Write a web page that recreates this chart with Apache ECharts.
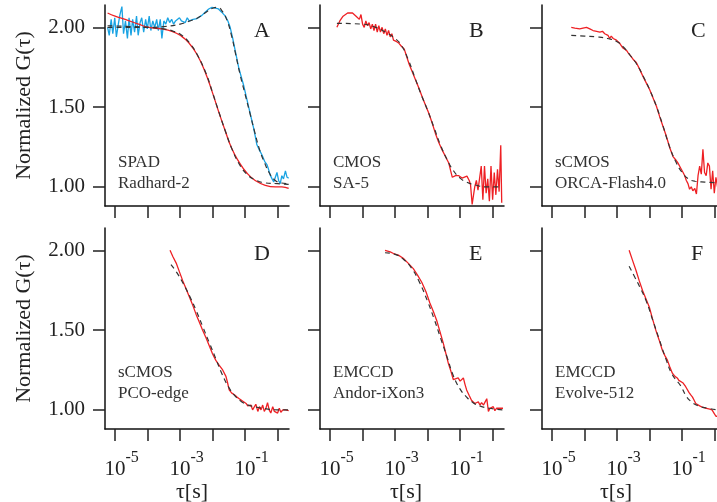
<!DOCTYPE html>
<html lang="en">
<head>
    <meta charset="utf-8">
    <title>Normalized G(tau) - six detectors</title>
    <script src="https://cdn.jsdelivr.net/npm/echarts@6/dist/echarts.min.js"></script>
    <style type="text/css">
        html, body { margin: 0; padding: 0; background: #fff; }
        #main { width: 717px; height: 502px; }
    </style>
</head>
<body>
    <div id="main"></div>
    <script type="text/javascript">
        // x values are log10(tau / s), y values are normalized G(tau)
        var xTicks = [-5, -4, -3, -2, -1, 0];
        var xLabels = [-5, -3, -1];
        var yTicks = [1.0, 1.5, 2.0];

        var panelLetters = ['A', 'B', 'C', 'D', 'E', 'F'];
        var panelLine1 = ['SPAD', 'CMOS', 'sCMOS', 'sCMOS', 'EMCCD', 'EMCCD'];
        var panelLine2 = ['Radhard-2', 'SA-5', 'ORCA-Flash4.0', 'PCO-edge', 'Andor-iXon3', 'Evolve-512'];

        var aRed = [[-5.23,2.09],[-5.0,2.07],[-4.69,2.05],[-4.28,2.02],[-3.97,2.0],[-3.56,1.99],[-3.25,1.975],[-3.0,1.95],[-2.74,1.905],[-2.48,1.83],[-2.23,1.72],[-2.02,1.6],[-1.82,1.475],[-1.61,1.35],[-1.41,1.24],[-1.2,1.16],[-0.94,1.085],[-0.69,1.04],[-0.38,1.01],[-0.07,1.0],[0.13,1.0],[0.34,0.99]];
        var aRedFit = [[-5.23,2.01],[-4.5,2.005],[-4.0,2.0],[-3.5,1.99],[-3.2,1.975],[-2.95,1.95],[-2.7,1.9],[-2.45,1.82],[-2.2,1.71],[-2.0,1.59],[-1.8,1.465],[-1.6,1.345],[-1.4,1.235],[-1.2,1.15],[-0.95,1.08],[-0.7,1.045],[-0.4,1.025],[0.0,1.02],[0.34,1.015]];
        var aBlue = [[-5.23,2.0],[-5.18,1.95],[-5.12,2.05],[-5.07,1.96],[-5.01,2.06],[-4.96,1.94],[-4.9,2.02],[-4.85,2.08],[-4.79,2.13],[-4.74,1.96],[-4.68,2.04],[-4.62,1.93],[-4.57,2.06],[-4.51,1.95],[-4.46,2.05],[-4.4,1.97],[-4.34,2.07],[-4.29,1.95],[-4.23,2.03],[-4.18,2.06],[-4.12,1.97],[-4.06,2.05],[-4.01,1.99],[-3.95,2.07],[-3.9,1.98],[-3.84,2.04],[-3.78,2.0],[-3.72,2.05],[-3.67,1.98],[-3.61,2.05],[-3.56,1.93],[-3.5,2.04],[-3.44,2.02],[-3.38,2.06],[-3.32,2.03],[-3.26,2.05],[-3.2,2.02],[-3.14,2.04],[-3.08,2.03],[-3.02,2.06],[-2.96,2.04],[-2.9,2.05],[-2.84,2.03],[-2.78,2.06],[-2.72,2.04],[-2.66,2.05],[-2.6,2.05],[-2.54,2.06],[-2.48,2.055],[-2.43,2.06],[-2.33,2.075],[-2.23,2.095],[-2.12,2.115],[-2.02,2.125],[-1.92,2.12],[-1.82,2.115],[-1.72,2.095],[-1.61,2.07],[-1.53,2.04],[-1.46,2.0],[-1.38,1.93],[-1.3,1.85],[-1.2,1.75],[-1.12,1.69],[-1.05,1.64],[-0.97,1.57],[-0.89,1.5],[-0.81,1.43],[-0.74,1.37],[-0.69,1.32],[-0.64,1.265],[-0.56,1.23],[-0.48,1.2],[-0.4,1.16],[-0.33,1.14],[-0.28,1.11],[-0.23,1.075],[-0.17,1.05],[-0.12,1.03],[-0.07,1.06],[-0.02,1.09],[0.03,1.04],[0.08,1.02],[0.13,1.07],[0.18,1.05],[0.24,1.1],[0.29,1.06],[0.34,1.055]];
        var aBlueFit = [[-5.23,2.0],[-4.0,2.0],[-3.5,2.005],[-3.0,2.02],[-2.7,2.04],[-2.45,2.06],[-2.2,2.095],[-2.0,2.12],[-1.85,2.125],[-1.7,2.1],[-1.55,2.04],[-1.42,1.95],[-1.3,1.84],[-1.15,1.7],[-1.0,1.58],[-0.85,1.46],[-0.7,1.34],[-0.55,1.23],[-0.4,1.15],[-0.25,1.085],[-0.1,1.045],[0.1,1.025],[0.34,1.02]];

        var bRed = [[-4.79,2.0],[-4.7,2.04],[-4.6,2.07],[-4.46,2.09],[-4.31,2.09],[-4.2,2.07],[-4.1,2.05],[-4.05,2.08],[-4.0,2.02],[-3.95,2.0],[-3.9,2.04],[-3.85,2.01],[-3.8,2.03],[-3.75,1.99],[-3.7,2.02],[-3.65,1.98],[-3.6,2.02],[-3.55,1.97],[-3.5,2.01],[-3.45,1.97],[-3.4,2.0],[-3.35,1.96],[-3.3,1.99],[-3.25,1.95],[-3.2,1.98],[-3.15,1.94],[-3.1,1.96],[-3.05,1.92],[-3.0,1.93],[-2.95,1.91],[-2.88,1.9],[-2.8,1.88],[-2.72,1.865],[-2.65,1.82],[-2.57,1.77],[-2.47,1.72],[-2.37,1.67],[-2.26,1.615],[-2.16,1.56],[-2.06,1.51],[-1.96,1.46],[-1.86,1.4],[-1.76,1.335],[-1.66,1.28],[-1.55,1.23],[-1.45,1.19],[-1.35,1.15],[-1.29,1.1],[-1.24,1.06],[-1.14,1.07],[-1.04,1.07],[-0.94,1.055],[-0.89,1.06],[-0.79,1.067],[-0.72,1.04],[-0.68,1.015],[-0.63,0.89],[-0.55,1.0],[-0.5,1.04],[-0.45,0.98],[-0.35,1.13],[-0.3,0.92],[-0.25,1.13],[-0.2,0.96],[-0.15,1.05],[-0.1,0.91],[-0.05,1.13],[0.0,0.92],[0.05,1.09],[0.1,0.95],[0.15,1.11],[0.2,0.97],[0.25,1.26],[0.28,0.9]];
        var bFit = [[-4.79,2.025],[-4.0,2.02],[-3.6,2.0],[-3.3,1.97],[-3.0,1.93],[-2.8,1.885],[-2.6,1.8],[-2.4,1.69],[-2.2,1.58],[-2.0,1.48],[-1.8,1.37],[-1.6,1.26],[-1.4,1.17],[-1.2,1.1],[-1.0,1.055],[-0.8,1.03],[-0.5,1.01],[-0.2,1.0],[0.29,1.0]];

        var cRed = [[-4.41,2.0],[-4.3,1.995],[-4.15,1.99],[-4.05,1.995],[-3.94,2.0],[-3.84,1.99],[-3.74,1.98],[-3.63,1.975],[-3.53,1.97],[-3.45,1.975],[-3.38,1.96],[-3.33,1.97],[-3.28,1.95],[-3.23,1.93],[-3.18,1.945],[-3.12,1.93],[-3.07,1.935],[-3.02,1.92],[-2.97,1.915],[-2.92,1.9],[-2.87,1.89],[-2.82,1.87],[-2.77,1.875],[-2.71,1.855],[-2.66,1.84],[-2.61,1.83],[-2.56,1.815],[-2.51,1.8],[-2.46,1.79],[-2.41,1.78],[-2.3,1.735],[-2.2,1.69],[-2.1,1.65],[-2.0,1.61],[-1.9,1.56],[-1.79,1.505],[-1.69,1.44],[-1.59,1.38],[-1.49,1.32],[-1.38,1.245],[-1.28,1.19],[-1.2,1.17],[-1.13,1.15],[-1.05,1.12],[-0.97,1.09],[-0.92,1.07],[-0.87,1.04],[-0.82,1.02],[-0.77,0.985],[-0.72,1.0],[-0.67,0.975],[-0.61,0.99],[-0.56,0.955],[-0.51,1.07],[-0.46,1.13],[-0.41,1.08],[-0.36,1.235],[-0.31,1.09],[-0.26,1.07],[-0.21,1.15],[-0.16,1.13],[-0.11,0.985],[-0.06,1.1],[-0.01,0.96],[0.04,1.06],[0.09,1.0],[0.14,1.08],[0.2,0.97]];
        var cFit = [[-4.41,1.95],[-4.0,1.945],[-3.6,1.94],[-3.3,1.93],[-3.0,1.91],[-2.8,1.875],[-2.6,1.825],[-2.4,1.77],[-2.2,1.695],[-2.0,1.61],[-1.8,1.51],[-1.6,1.39],[-1.4,1.26],[-1.2,1.16],[-1.0,1.09],[-0.8,1.05],[-0.6,1.035],[-0.3,1.03],[0.2,1.025]];

        var dRed = [[-3.31,2.0],[-3.22,1.96],[-3.12,1.92],[-3.02,1.865],[-2.92,1.81],[-2.82,1.76],[-2.72,1.71],[-2.61,1.655],[-2.51,1.6],[-2.41,1.55],[-2.31,1.5],[-2.2,1.45],[-2.1,1.4],[-2.0,1.35],[-1.9,1.31],[-1.8,1.28],[-1.69,1.25],[-1.59,1.21],[-1.54,1.17],[-1.49,1.125],[-1.41,1.105],[-1.33,1.095],[-1.25,1.08],[-1.18,1.07],[-1.08,1.055],[-0.97,1.04],[-0.92,1.025],[-0.87,1.02],[-0.82,1.03],[-0.77,1.0],[-0.72,1.01],[-0.67,1.035],[-0.61,0.99],[-0.56,1.02],[-0.51,1.0],[-0.46,1.03],[-0.41,0.99],[-0.36,1.01],[-0.31,1.045],[-0.26,1.0],[-0.21,0.98],[-0.15,1.02],[-0.1,0.99],[-0.05,1.0],[0.0,0.98],[0.05,1.01],[0.1,0.985],[0.16,1.0],[0.2,0.99],[0.24,1.0],[0.28,0.99],[0.34,0.995]];
        var dFit = [[-3.28,1.91],[-3.1,1.86],[-2.9,1.79],[-2.7,1.71],[-2.5,1.62],[-2.3,1.52],[-2.1,1.42],[-1.9,1.32],[-1.7,1.22],[-1.5,1.14],[-1.3,1.085],[-1.1,1.05],[-0.9,1.03],[-0.6,1.015],[-0.3,1.005],[0.0,1.0],[0.34,1.0]];

        var eRed = [[-3.31,2.0],[-3.15,1.99],[-3.05,1.98],[-2.9,1.97],[-2.75,1.95],[-2.6,1.92],[-2.44,1.885],[-2.31,1.845],[-2.18,1.8],[-2.05,1.74],[-1.93,1.67],[-1.82,1.615],[-1.72,1.56],[-1.62,1.49],[-1.52,1.42],[-1.44,1.355],[-1.36,1.29],[-1.28,1.24],[-1.21,1.19],[-1.15,1.19],[-1.06,1.2],[-1.0,1.18],[-0.95,1.17],[-0.9,1.2],[-0.85,1.16],[-0.8,1.125],[-0.72,1.09],[-0.65,1.06],[-0.6,1.055],[-0.55,1.04],[-0.49,1.04],[-0.44,1.05],[-0.39,1.03],[-0.34,1.045],[-0.28,1.03],[-0.23,1.05],[-0.18,1.07],[-0.13,0.99],[-0.08,1.01],[-0.03,1.005],[0.02,1.02],[0.07,0.995],[0.12,1.01],[0.17,1.0],[0.22,1.01],[0.27,1.0],[0.32,1.01]];
        var eFit = [[-3.31,1.985],[-3.0,1.975],[-2.75,1.945],[-2.5,1.89],[-2.25,1.8],[-2.0,1.68],[-1.8,1.57],[-1.6,1.45],[-1.4,1.33],[-1.2,1.21],[-1.0,1.13],[-0.8,1.08],[-0.6,1.045],[-0.4,1.025],[-0.1,1.01],[0.32,1.0]];

        var fRed = [[-2.63,2.0],[-2.53,1.94],[-2.42,1.875],[-2.32,1.81],[-2.22,1.75],[-2.12,1.7],[-2.01,1.645],[-1.91,1.57],[-1.81,1.5],[-1.71,1.44],[-1.61,1.375],[-1.53,1.34],[-1.45,1.31],[-1.38,1.27],[-1.3,1.23],[-1.22,1.21],[-1.15,1.2],[-1.1,1.185],[-1.04,1.19],[-0.98,1.17],[-0.94,1.16],[-0.89,1.145],[-0.84,1.14],[-0.79,1.11],[-0.74,1.095],[-0.68,1.08],[-0.63,1.06],[-0.58,1.04],[-0.52,1.045],[-0.46,1.025],[-0.41,1.03],[-0.36,1.015],[-0.3,1.02],[-0.25,1.01],[-0.2,1.015],[-0.15,1.005],[-0.08,1.0],[-0.02,0.98],[0.04,0.96],[0.1,0.96]];
        var fFit = [[-2.63,1.9],[-2.45,1.83],[-2.3,1.77],[-2.1,1.68],[-1.9,1.56],[-1.7,1.44],[-1.5,1.32],[-1.3,1.22],[-1.04,1.15],[-0.9,1.095],[-0.74,1.055],[-0.5,1.025],[-0.2,1.01],[0.1,1.0]];

        var RED = '#ee2024';
        var BLUE = '#1aa3e3';
        var FIT = '#333333';
        var FONT = 'Liberation Serif';

        var colLeft = [105, 320, 542];
        var rowTop = [5, 228];
        var namePad = [10, 12, 36];
        var gw = 184, gh = 201;

        var grids = [], xAxes = [], yAxes = [], graphics = [];
        for (var i = 0; i < 6; i++) {
            var col = i % 3, row = Math.floor(i / 3);
            grids.push({ left: colLeft[col], top: rowTop[row], width: gw, height: gh, outerBoundsMode: 'none', containLabel: false });
            xAxes.push({
                type: 'value', gridIndex: i, min: -5.31, max: 0.35,
                name: row === 1 ? 'τ[s]' : '',
                nameLocation: 'middle', nameGap: 43,
                nameTextStyle: { fontFamily: FONT, fontSize: 22, color: '#222', padding: [0, namePad[col], 0, 0] },
                axisLine: { show: true, onZero: false, lineStyle: { color: '#111', width: 1.5 } },
                axisTick: { show: true, customValues: xTicks, length: 12, lineStyle: { color: '#222', width: 1.5 } },
                axisLabel: {
                    show: row === 1, customValues: xLabels, margin: 21,
                    formatter: function (v) { return '{p|}{b|10}{s|' + v + '}'; },
                    rich: {
                        p: { width: 13, lineHeight: 16 },
                        b: { fontFamily: FONT, fontSize: 21, color: '#222', lineHeight: 30, verticalAlign: 'bottom' },
                        s: { fontFamily: FONT, fontSize: 16, color: '#222', lineHeight: 16, verticalAlign: 'top' }
                    }
                },
                splitLine: { show: false }
            });
            yAxes.push({
                type: 'value', gridIndex: i, min: 0.88, max: 2.14,
                name: col === 0 ? 'Normalized G(τ)' : '',
                nameLocation: 'middle', nameGap: 70,
                nameTextStyle: { fontFamily: FONT, fontSize: 22, color: '#222' },
                axisLine: { show: true, onZero: false, lineStyle: { color: '#111', width: 1.5 } },
                axisTick: { show: true, customValues: yTicks, length: 12, lineStyle: { color: '#222', width: 1.5 } },
                axisLabel: {
                    show: col === 0, customValues: yTicks, margin: 20,
                    fontFamily: FONT, fontSize: 21, color: '#222',
                    formatter: function (v) { return v.toFixed(2); }
                },
                splitLine: { show: false }
            });
            graphics.push({
                type: 'text', left: colLeft[col] + 149, top: rowTop[row] + 15,
                style: { text: panelLetters[i], font: '22px "' + FONT + '"', fill: '#222' }
            });
            graphics.push({
                type: 'text', left: colLeft[col] + 13, top: rowTop[row] + (row === 0 ? 147 : 134),
                style: { text: panelLine1[i] + '\n' + panelLine2[i], font: '17px "' + FONT + '"', fill: '#333', lineHeight: 21 }
            });
        }

        function line(idx, data, color, dashed, smooth) {
            return {
                type: 'line', xAxisIndex: idx, yAxisIndex: idx, data: data,
                showSymbol: false, symbol: 'none', smooth: smooth, clip: true,
                lineStyle: { color: color, width: dashed ? 1.2 : 1.3, type: dashed ? [5, 4] : 'solid' },
                silent: true
            };
        }

        var series = [
            line(0, aBlue, BLUE, false, false),
            line(0, aBlueFit, FIT, true, true),
            line(0, aRed, RED, false, true),
            line(0, aRedFit, FIT, true, true),
            line(1, bRed, RED, false, false),
            line(1, bFit, FIT, true, true),
            line(2, cRed, RED, false, false),
            line(2, cFit, FIT, true, true),
            line(3, dRed, RED, false, false),
            line(3, dFit, FIT, true, true),
            line(4, eRed, RED, false, false),
            line(4, eFit, FIT, true, true),
            line(5, fRed, RED, false, false),
            line(5, fFit, FIT, true, true)
        ];

        var myChart = echarts.init(document.getElementById('main'));
        myChart.setOption({
            animation: false,
            backgroundColor: '#fff',
            grid: grids,
            xAxis: xAxes,
            yAxis: yAxes,
            graphic: graphics,
            series: series
        });
    </script>
</body>
</html>
